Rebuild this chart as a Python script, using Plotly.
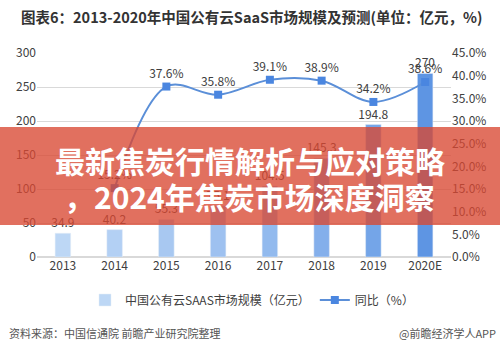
import plotly.graph_objects as go

years = ["2013", "2014", "2015", "2016", "2017", "2018", "2019", "2020E"]
market = [34.9, 40.2, 55.3, 75.1, 104.5, 145.3, 194.8, 270]
growth = [None, 15.2, 37.6, 35.8, 39.1, 38.9, 34.2, 38.6]
left_ticks = [0, 50, 100, 150, 200, 250, 300]
right_ticks = [0, 5, 10, 15, 20, 25, 30, 35, 40, 45]

bar_name = "中国公有云SAAS市场规模（亿元）"
line_name = "同比（%）"
title = "图表6：2013-2020年中国公有云SaaS市场规模及预测(单位：亿元，%)"
banner1 = "最新焦炭行情解析与应对策略"
banner2 = "，2024年焦炭市场深度洞察"
source = "资料来源：中国信通院 前瞻产业研究院整理"
brand = "@前瞻经济学人APP"

FONT = "Noto Sans CJK SC"
bar_colors = ["#BDD7F5", "#B3D0F4", "#A8C8F1", "#9EC1F0", "#92BAEE", "#84AFEB", "#74A5E8", "#5E95E3"]

fig = go.Figure()
fig.add_trace(go.Bar(
    x=years, y=market, name=bar_name, marker_color=bar_colors,
    width=0.3, text=[f"{v:g}" for v in market], textposition="outside",
    constraintext="none",
    textfont=dict(size=12, color="#404040", family=FONT), cliponaxis=False,
))
fig.add_trace(go.Scatter(
    x=years, y=growth, name=line_name, yaxis="y2", mode="lines+markers+text",
    line=dict(color="#5B8FD8", width=2, shape="spline"),
    marker=dict(symbol="square", size=8, color="#4A86E0"),
    text=[None if g is None else f"{g:.1f}%" for g in growth],
    textposition="top center", textfont=dict(size=12, color="#404040", family=FONT),
    cliponaxis=False,
))

# pixel helpers (plot area: x 37..451, y 53..257)
L, R, T, B = 37, 49, 53, 93
W, H = 500 - L - R, 350 - T - B
px = lambda x: (x - L) / W
py = lambda y: (350 - B - y) / H

annotations = [
    dict(text=title, x=px(252), y=py(17), xref="paper", yref="paper", showarrow=False,
         font=dict(size=14.5, color="#333333", family=FONT, weight="bold"), xanchor="center", yanchor="middle"),
    dict(text=source, x=px(7), y=py(333), xref="paper", yref="paper", showarrow=False,
         font=dict(size=11, color="#555555", family=FONT), xanchor="left", yanchor="middle"),
    dict(text=brand, x=px(498), y=py(333), xref="paper", yref="paper", showarrow=False,
         font=dict(size=11, color="#555555", family=FONT), xanchor="right", yanchor="middle"),
    dict(text=banner1, x=px(250), y=py(160), xref="paper", yref="paper", showarrow=False,
         font=dict(size=30, color="white", family=FONT, weight="bold"), xanchor="center", yanchor="middle"),
    dict(text=banner2, x=px(250), y=py(196), xref="paper", yref="paper", showarrow=False,
         font=dict(size=30, color="white", family=FONT, weight="bold"), xanchor="center", yanchor="middle"),
]

shapes = [
    dict(type="rect", xref="paper", yref="paper", x0=px(0), x1=px(500), y0=py(127), y1=py(225),
         fillcolor="rgba(216,72,50,0.78)", line=dict(width=0), layer="above"),
]

fig.update_layout(
    width=500, height=350, margin=dict(l=L, r=R, t=T, b=B),
    paper_bgcolor="white", plot_bgcolor="white",
    font=dict(family=FONT, size=12, color="#595959"),
    bargap=0.7,
    xaxis=dict(showline=False, ticks="", tickfont=dict(size=12, color="#404040")),
    yaxis=dict(range=[0, 300], tickvals=left_ticks, gridcolor="#D9D9D9", zeroline=True,
               zerolinecolor="#D9D9D9", ticks="", tickfont=dict(size=12, color="#404040")),
    yaxis2=dict(range=[0, 45], tickvals=right_ticks, ticktext=[f"{t:.1f}%" for t in right_ticks],
                overlaying="y", side="right", showgrid=False, zeroline=False,
                tickfont=dict(size=12, color="#404040")),
    legend=dict(orientation="h", x=px(252), xanchor="center", y=py(300), yanchor="middle",
                font=dict(size=12, color="#404040", family=FONT), itemwidth=30),
    annotations=annotations, shapes=shapes, showlegend=True,
)

fig.write_html("out.html")
